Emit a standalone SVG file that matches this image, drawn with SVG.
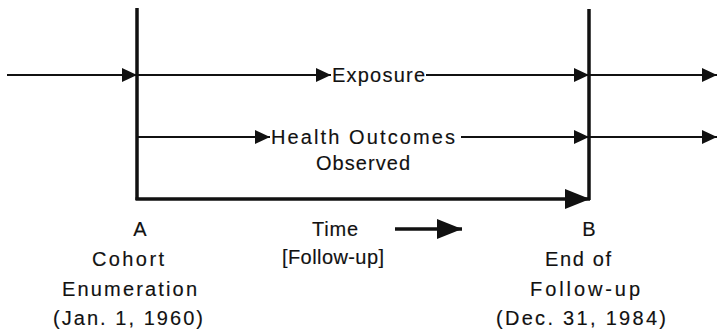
<svg xmlns="http://www.w3.org/2000/svg" width="717" height="332" viewBox="0 0 717 332">
  <style>
    text { font-family: "Liberation Sans", Arial, Helvetica, sans-serif; font-size: 20px; fill: #111; stroke: #111; stroke-width: 0.15px; }
    .mid { text-anchor: middle; }
    .thin { stroke: #111; stroke-width: 2; fill: none; }
    .bar { stroke: #111; stroke-width: 3.5; fill: none; }
    .bold { stroke: #111; stroke-width: 3.5; fill: none; }
  </style>
  <defs>
    <marker id="head" markerUnits="userSpaceOnUse" viewBox="0 0 15 14" refX="15" refY="7" markerWidth="15" markerHeight="14" orient="auto">
      <path d="M0,0 L15,7 L0,14 Z" fill="#111"/>
    </marker>
    <marker id="bighead" markerUnits="userSpaceOnUse" viewBox="0 0 25 20" refX="25" refY="10" markerWidth="25" markerHeight="20" orient="auto">
      <path d="M0,0 L25,10 L0,20 Z" fill="#111"/>
    </marker>
  </defs>
  <rect width="717" height="332" fill="#fff"/>

  <!-- time boundaries: start (A) and end (B) of follow-up -->
  <g id="boundaries">
    <line class="bar" x1="137" y1="8" x2="137" y2="200"/>
    <line class="bar" x1="589" y1="9" x2="589" y2="200"/>
  </g>

  <g id="connectors">
    <!-- exposure stream -->
    <line class="thin" x1="7" y1="75" x2="137" y2="75" marker-end="url(#head)"/>
    <line class="thin" x1="137" y1="75" x2="331" y2="75" marker-end="url(#head)"/>
    <line class="thin" x1="426" y1="75" x2="589" y2="75" marker-end="url(#head)"/>
    <line class="thin" x1="589" y1="75" x2="717" y2="75" marker-end="url(#head)"/>
    <!-- health outcomes stream -->
    <line class="thin" x1="137" y1="137" x2="270" y2="137" marker-end="url(#head)"/>
    <line class="thin" x1="461" y1="137" x2="589" y2="137" marker-end="url(#head)"/>
    <line class="thin" x1="589" y1="137" x2="717" y2="137" marker-end="url(#head)"/>
    <!-- follow-up period -->
    <line class="bold" x1="135.5" y1="199" x2="590" y2="199" marker-end="url(#bighead)"/>
    <!-- time direction -->
    <line class="bold" x1="395" y1="229" x2="462" y2="229" marker-end="url(#bighead)"/>
  </g>

  <g id="exposure">
    <text x="332" y="82" textLength="93" lengthAdjust="spacing">Exposure</text>
  </g>

  <g id="health-outcomes">
    <text x="271" y="144" textLength="184" lengthAdjust="spacing">Health  Outcomes</text>
    <text x="316" y="170" textLength="94" lengthAdjust="spacing">Observed</text>
  </g>

  <g id="point-a">
    <text class="mid" x="140" y="236">A</text>
    <text x="92" y="266" textLength="72" lengthAdjust="spacing">Cohort</text>
    <text x="62" y="296" textLength="135" lengthAdjust="spacing">Enumeration</text>
    <text x="53" y="325" textLength="150" lengthAdjust="spacing">(Jan. 1, 1960)</text>
  </g>

  <g id="time">
    <text x="312" y="236" textLength="46" lengthAdjust="spacing">Time</text>
    <text x="282" y="264" textLength="102" lengthAdjust="spacing">[Follow-up]</text>
  </g>

  <g id="point-b">
    <text class="mid" x="589" y="236">B</text>
    <text x="545" y="266" textLength="66" lengthAdjust="spacing">End of</text>
    <text x="530" y="296" textLength="110" lengthAdjust="spacing">Follow-up</text>
    <text x="496" y="325" textLength="170" lengthAdjust="spacing">(Dec. 31, 1984)</text>
  </g>
</svg>
